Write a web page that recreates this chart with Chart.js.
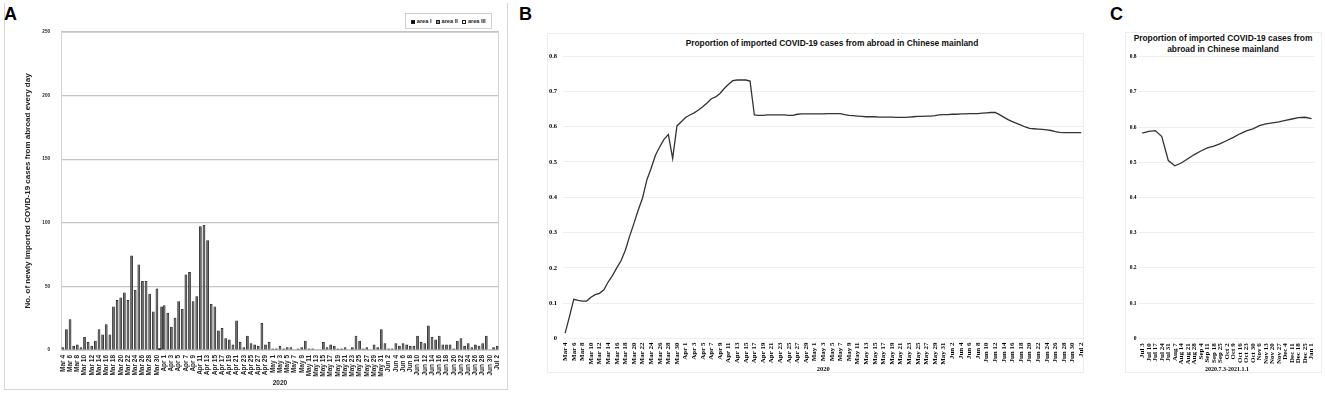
<!DOCTYPE html>
<html><head><meta charset="utf-8">
<script src="https://cdn.jsdelivr.net/npm/chart.js@4.4.1/dist/chart.umd.min.js"></script>
<style>
html,body{margin:0;padding:0;background:#fff;}
body{width:1325px;height:395px;position:relative;overflow:hidden;font-family:"Liberation Sans",Arial,sans-serif;}
canvas{position:absolute;top:0;}
.plbl{position:absolute;font-weight:bold;font-size:18px;line-height:18px;color:#000;}
.ttl{position:absolute;font-weight:bold;font-size:8.4px;color:#111;text-align:center;white-space:nowrap;}
.box{position:absolute;box-sizing:border-box;}
.leg{position:absolute;left:405px;top:13px;width:87px;height:16px;box-sizing:border-box;border:1px solid #cfcfcf;font-size:5.6px;font-weight:bold;color:#222;display:flex;align-items:center;justify-content:space-around;padding:0 3px;}
.leg span.sw{display:inline-block;width:4px;height:4px;margin-right:1.5px;vertical-align:-0.5px;box-sizing:border-box;border:0.6px solid #222;}
</style></head><body>

<div class="box" style="left:4px;top:3px;width:504px;height:387px;border:1.5px solid #d6d6d6;border-top:none;"></div>
<div class="box" style="left:547px;top:33px;width:537px;height:340px;border:1px solid #ededed;"></div>
<div class="box" style="left:1125px;top:32px;width:197px;height:341px;border:1px solid #ededed;"></div>

<div class="plbl" style="left:4px;top:5px;">A</div>
<div class="plbl" style="left:519px;top:5px;">B</div>
<div class="plbl" style="left:1110px;top:5px;">C</div>

<div class="leg"><div><span class="sw" style="background:#000"></span>area I</div><div><span class="sw" style="background:#8a8a8a"></span>area II</div><div><span class="sw" style="background:#fff"></span>area III</div></div>

<div class="ttl" style="left:632px;width:400px;top:38.5px;line-height:8.4px;">Proportion of imported COVID-19 cases from abroad in Chinese mainland</div>
<div class="ttl" style="left:1123px;width:200px;top:32.6px;line-height:11px;">Proportion of imported COVID-19 cases from<br>abroad in Chinese mainland</div>

<canvas id="cA" width="510" height="395" style="left:0px;"></canvas>
<canvas id="cB" width="585" height="395" style="left:515px;"></canvas>
<canvas id="cC" width="225" height="395" style="left:1100px;"></canvas>

<script>
// ---------- DATA ----------
const dates2020 = [
 "Mar 4","Mar 5","Mar 6","Mar 7","Mar 8","Mar 9","Mar 10","Mar 11","Mar 12","Mar 13","Mar 14","Mar 15","Mar 16","Mar 17","Mar 18","Mar 19","Mar 20","Mar 21","Mar 22","Mar 23","Mar 24","Mar 25","Mar 26","Mar 27","Mar 28","Mar 29","Mar 30","Mar 31",
 "Apr 1","Apr 2","Apr 3","Apr 4","Apr 5","Apr 6","Apr 7","Apr 8","Apr 9","Apr 10","Apr 11","Apr 12","Apr 13","Apr 14","Apr 15","Apr 16","Apr 17","Apr 18","Apr 19","Apr 20","Apr 21","Apr 22","Apr 23","Apr 24","Apr 25","Apr 26","Apr 27","Apr 28","Apr 29","Apr 30",
 "May 1","May 2","May 3","May 4","May 5","May 6","May 7","May 8","May 9","May 10","May 11","May 12","May 13","May 14","May 15","May 16","May 17","May 18","May 19","May 20","May 21","May 22","May 23","May 24","May 25","May 26","May 27","May 28","May 29","May 30","May 31",
 "Jun 1","Jun 2","Jun 3","Jun 4","Jun 5","Jun 6","Jun 7","Jun 8","Jun 9","Jun 10","Jun 11","Jun 12","Jun 13","Jun 14","Jun 15","Jun 16","Jun 17","Jun 18","Jun 19","Jun 20","Jun 21","Jun 22","Jun 23","Jun 24","Jun 25","Jun 26","Jun 27","Jun 28","Jun 29","Jun 30",
 "Jul 1","Jul 2"
];

// Panel A: newly imported cases per day
const areaI = [
 null,null,null,null,null,null,null,null,null,null,null,null,null,null,null,null,null,null,null,null,null,null,null,null,null,null,null,1,
 null,null,null,null,null,null,null,null,null,null,null,null,null,null,null,null,null,null,null,null,null,null,null,null,null,null,null,null,null,null,
 null,null,null,null,null,null,null,null,null,null,null,null,null,null,null,null,null,null,null,null,null,null,null,null,null,null,null,null,null,null,null,
 null,null,null,null,null,null,null,null,null,null,null,null,null,null,null,null,null,null,null,null,null,null,null,null,null,null,null,null,null,null,
 null,null
];
const areaII = [
 2,16,24,3,4,2,10,6,3,7,16,12,20,12,34,39,41,45,39,74,47,67,54,54,44,30,48,34,
 35,29,18,25,38,32,59,61,38,42,97,98,86,36,34,15,17,9,8,4,23,6,2,11,5,4,3,21,4,6,
 1,1,3,1,2,2,0,1,2,7,1,1,0,0,6,2,4,3,1,1,2,0,2,11,7,1,2,0,4,2,16,
 5,1,1,5,3,5,4,3,3,11,6,5,19,10,8,11,4,4,4,1,7,9,3,5,2,4,3,5,11,0,
 2,3
];
const areaIII = [];
const yTicksA = [0, 50, 100, 150, 200, 250];

// Panel B: proportion, Mar 4 - Jul 2 2020
const proportionB = [
 0.015,0.062,0.111,0.108,0.106,0.106,0.117,0.124,0.128,0.138,
 0.160,0.178,0.200,0.220,0.250,0.290,0.326,0.364,0.398,0.449,
 0.482,0.519,0.543,0.564,0.578,0.510,0.602,0.614,0.626,0.633,
 0.639,0.647,0.656,0.667,0.679,0.684,0.694,0.708,0.720,0.730,
 0.732,0.732,0.732,0.729,0.633,0.632,0.632,0.633,0.633,0.633,
 0.633,0.633,0.632,0.632,0.635,0.636,0.636,0.636,0.636,0.636,
 0.636,0.637,0.637,0.637,0.637,0.634,0.632,0.631,0.630,0.629,
 0.628,0.628,0.628,0.627,0.627,0.627,0.627,0.626,0.626,0.626,
 0.627,0.628,0.629,0.629,0.630,0.630,0.631,0.633,0.634,0.634,
 0.635,0.635,0.636,0.636,0.637,0.637,0.637,0.638,0.639,0.640,
 0.640,0.634,0.627,0.620,0.614,0.609,0.604,0.599,0.595,0.594,
 0.593,0.592,0.591,0.589,0.586,0.584,0.583,0.583,0.583,0.583,0.583
];

// Panel C: proportion, Jul 3 2020 - Jan 1 2021 (weekly)
const weeksC = ["Jul 3","Jul 10","Jul 17","Jul 24","Jul 31","Aug 7","Aug 14","Aug 21","Aug 28","Sep 4","Sep 11","Sep 18","Sep 25","Oct 2","Oct 9","Oct 16","Oct 23","Oct 30","Nov 6","Nov 13","Nov 20","Nov 27","Dec 4","Dec 11","Dec 18","Dec 25","Jan 1"];
const proportionC = [0.583,0.588,0.590,0.573,0.505,0.490,0.498,0.510,0.522,0.532,0.541,0.546,0.553,0.562,0.571,0.581,0.589,0.595,0.604,0.609,0.612,0.615,0.619,0.623,0.627,0.628,0.624];

const titleA_y = "No. of newly imported COVID-19 cases from abroad every day";
const titleA_x = "2020";
const titleB_x = "2020";
const titleC_x = "2020.7.3-2021.1.1";

// ---------- CHARTS ----------
const SANS = "'Liberation Sans', Arial, sans-serif";
const SERIF = "'Liberation Serif', 'Times New Roman', serif";

const frameA = {
  id: 'frameA',
  beforeDatasetsDraw(chart) {
    const {ctx, chartArea: a} = chart;
    ctx.save();
    ctx.strokeStyle = '#d2d2d2';
    ctx.lineWidth = 1;
    ctx.strokeRect(Math.round(a.left) + 0.5, Math.round(a.top) + 0.5, Math.round(a.right - a.left) - 1, Math.round(a.bottom - a.top));
    ctx.restore();
  }
};

new Chart(document.getElementById('cA'), {
  type: 'bar',
  data: {
    labels: dates2020,
    datasets: [
      {label: 'area I', data: areaI, backgroundColor: '#000', borderColor: '#000', borderWidth: 0},
      {label: 'area II', data: areaII, backgroundColor: '#6e6e6e', borderColor: '#1e1e1e', borderWidth: 0.6},
      {label: 'area III', data: areaIII, backgroundColor: '#fff', borderColor: '#000', borderWidth: 0.6}
    ]
  },
  options: {
    responsive: false, animation: false, devicePixelRatio: 1,
    layout: {padding: {left: 0, right: 9, top: 32, bottom: 0}},
    datasets: {bar: {barThickness: 2.1, skipNull: true, borderSkipped: 'start'}},
    plugins: {legend: {display: false}, tooltip: {enabled: false}},
    scales: {
      x: {
        offset: true,
        grid: {display: false, drawTicks: false},
        border: {display: false},
        ticks: {
          autoSkip: false, minRotation: 90, maxRotation: 90, padding: 5,
          color: '#222', font: {family: SANS, size: 6.5, weight: 'bold'},
          callback: function(v, i) { return i % 2 === 0 ? this.getLabelForValue(v) : ''; }
        },
        title: {display: true, text: titleA_x, color: '#222', font: {family: SANS, size: 6.5, weight: 'bold', lineHeight: 1.2}, padding: {top: 0, bottom: 8.1}},
        afterFit(s) { s.height = 45; }
      },
      y: {
        min: 0, max: 250,
        afterBuildTicks(s) { s.ticks = yTicksA.map(v => ({value: v})); },
        grid: {color: '#c4c4c4', lineWidth: 1.2, drawTicks: false},
        border: {display: false},
        ticks: {padding: 11, color: '#222', font: {family: SANS, size: 4.6, weight: 'bold'}},
        title: {display: true, text: titleA_y, color: '#222', font: {family: SANS, size: 8, weight: 'bold', lineHeight: 1.2}, padding: {top: 22.6, bottom: 0}},
        afterFit(s) { s.width = 61; }
      }
    }
  },
  plugins: [frameA]
});

function lineChart(id, labels, data, o) {
  return new Chart(document.getElementById(id), {
    type: 'line',
    data: {labels: labels, datasets: [{data: data, borderColor: '#333', borderWidth: 1.3, pointRadius: 0, tension: 0, fill: false}]},
    options: {
      responsive: false, animation: false, devicePixelRatio: 1,
      layout: {padding: {left: 0, right: o.padRight, top: o.top, bottom: 0}},
      plugins: {legend: {display: false}, tooltip: {enabled: false}},
      scales: {
        x: {
          offset: true,
          grid: {display: false, drawTicks: false},
          border: {display: false},
          ticks: {
            autoSkip: false, minRotation: 90, maxRotation: 90, padding: o.xPad,
            color: '#000', font: {family: SERIF, size: 7, weight: 'bold'},
            callback: function(v, i) { return i % o.every === 0 ? this.getLabelForValue(v) : ''; }
          },
          title: {display: true, text: o.xTitle, color: '#000', font: {family: SERIF, size: o.xTitleSize, weight: 'bold', lineHeight: 1.2}, padding: {top: 0, bottom: o.xTitlePad}},
          afterFit(s) { s.height = o.xH; }
        },
        y: {
          min: 0, max: 0.8,
          ticks: {stepSize: 0.1, padding: o.yPad, color: '#000', font: {family: SERIF, size: o.ySize, weight: 'bold'}},
          grid: {color: '#efefef', lineWidth: 1, drawTicks: false},
          border: {display: false},
          afterFit(s) { s.width = o.yW; }
        }
      }
    }
  });
}

lineChart('cB', dates2020, proportionB, {padRight: 16.7, top: 56, xPad: 4, every: 2, xTitle: titleB_x, xTitleSize: 6.5, xTitlePad: 22.1, xH: 56.5, yPad: 6, ySize: 6.5, yW: 48});
lineChart('cC', weeksC, proportionC, {padRight: 5, top: 56.7, xPad: 5, every: 1, xTitle: titleC_x, xTitleSize: 6, xTitlePad: 22.4, xH: 56.7, yPad: 2.5, ySize: 5.5, yW: 39});
</script>
</body></html>
